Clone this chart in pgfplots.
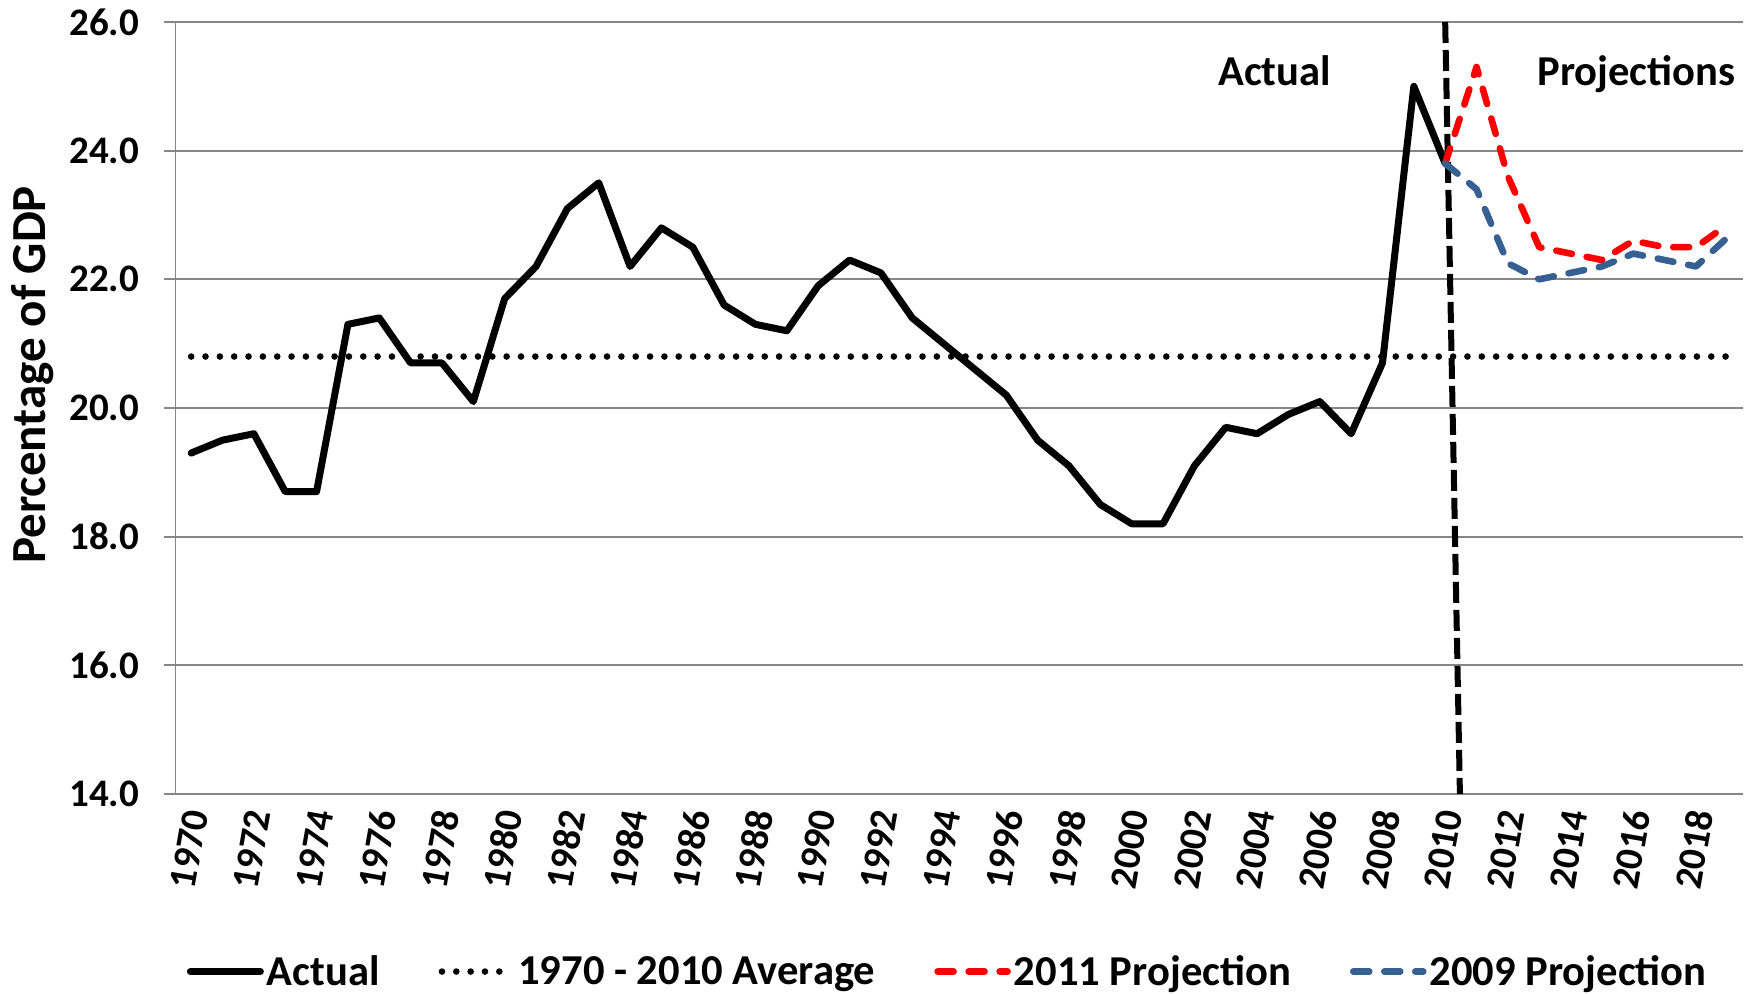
\documentclass[border=0pt]{standalone}
\usepackage{fontspec}
\setmainfont{Carlito}
\usepackage{pgfplots}
\pgfplotsset{compat=1.18}
\definecolor{gridgray}{RGB}{134,134,134}
\definecolor{projblue}{RGB}{55,96,146}
\definecolor{projred}{RGB}{255,0,0}
\newcommand{\tickfont}{\fontsize{19.5}{21}\selectfont\bfseries}
\newcommand{\bigfont}{\fontsize{21.3}{25}\selectfont\bfseries}
\newcommand{\labfont}{\fontsize{24.5}{28}\selectfont\bfseries}
\begin{document}
\begin{tikzpicture}
\useasboundingbox (0,0) rectangle (874pt,497pt);
\begin{axis}[
  at={(87.75pt,100pt)}, anchor=south west,
  scale only axis, width=783.75pt, height=386pt,
  xmin=1969.5, xmax=2019.5, ymin=14, ymax=26,
  ytick={14,16,...,26}, xtick={1970,1972,...,2018},
  axis x line*=bottom, axis y line*=left,
  axis line style={draw=gridgray, line width=0.85pt, -},
  ymajorgrids, major grid style={draw=gridgray, line width=0.85pt},
  ytick style={draw=gridgray, line width=0.85pt},
  xtick style={draw=none},
  tick align=outside, major tick length=6pt,
  /pgf/number format/assume math mode=true,
  yticklabel={\pgfmathprintnumber[fixed,fixed zerofill,precision=1]{\tick}},
  xticklabel={\pgfmathprintnumber[1000 sep={}]{\tick}},
  yticklabel style={font=\tickfont, anchor=east, inner sep=0pt, xshift=-12pt},
  xticklabel style={yshift=-2pt, xshift=2.5pt, rotate=80, anchor=east, inner sep=0pt, font=\tickfont},
  ylabel={Percentage of GDP},
  ylabel style={font=\labfont, at={(axis description cs:-0.0913,0.543)}, anchor=center},
  legend style={at={(axis description cs:0.493,-0.230)}, anchor=center, draw=none, fill=none,
    font=\bigfont, legend columns=4,
    /tikz/every even column/.append style={column sep=28pt},
    nodes={inner sep=1.5pt}},
  legend image code/.code={\draw[#1] (0pt,0pt) -- (35pt,0pt);},
  clip=false,
]
\addplot[black, line width=3pt, dash pattern=on 10.5pt off 3.5pt, forget plot]
  coordinates {(2010,26) (2010.47,14)};

\addplot[black, line width=3.5pt, line join=round, line cap=round] coordinates {
(1970,19.3) (1971,19.5) (1972,19.6) (1973,18.7) (1974,18.7) (1975,21.3)
(1976,21.4) (1977,20.7) (1978,20.7) (1979,20.1) (1980,21.7) (1981,22.2)
(1982,23.1) (1983,23.5) (1984,22.2) (1985,22.8) (1986,22.5) (1987,21.6)
(1988,21.3) (1989,21.2) (1990,21.9) (1991,22.3) (1992,22.1) (1993,21.4)
(1994,21.0) (1995,20.6) (1996,20.2) (1997,19.5) (1998,19.1) (1999,18.5)
(2000,18.2) (2001,18.2) (2002,19.1) (2003,19.7) (2004,19.6) (2005,19.9)
(2006,20.1) (2007,19.6) (2008,20.7) (2009,25.0) (2010,23.8)};
\addlegendentry{Actual}

\addplot[black, line width=3.3pt, line cap=round, dash pattern=on 0pt off 7.17pt]
  coordinates {(1970,20.8) (2019,20.8)};
\addlegendentry{1970 - 2010 Average}

\addplot[projred, line width=3.3pt, line cap=round, line join=round, dash pattern=on 8pt off 7.5pt] coordinates {
(2010,23.8) (2011,25.3) (2012,23.6) (2013,22.5) (2014,22.4) (2015,22.3)
(2016,22.6) (2017,22.5) (2018,22.5) (2019,22.85)};
\addlegendentry{2011 Projection}

\addplot[projblue, line width=3.3pt, line cap=round, line join=round, dash pattern=on 8pt off 7.5pt] coordinates {
(2010,23.8) (2011,23.4) (2012,22.25) (2013,22.0) (2014,22.1) (2015,22.2)
(2016,22.4) (2017,22.3) (2018,22.2) (2019,22.65)};
\addlegendentry{2009 Projection}

\node[anchor=base west, font=\bigfont, inner sep=0pt] at (axis cs:2002.75,25.02) {Actual};
\node[anchor=base west, font=\bigfont, inner sep=0pt] at (axis cs:2012.93,25.02) {Projections};
\end{axis}
\end{tikzpicture}
\end{document}
